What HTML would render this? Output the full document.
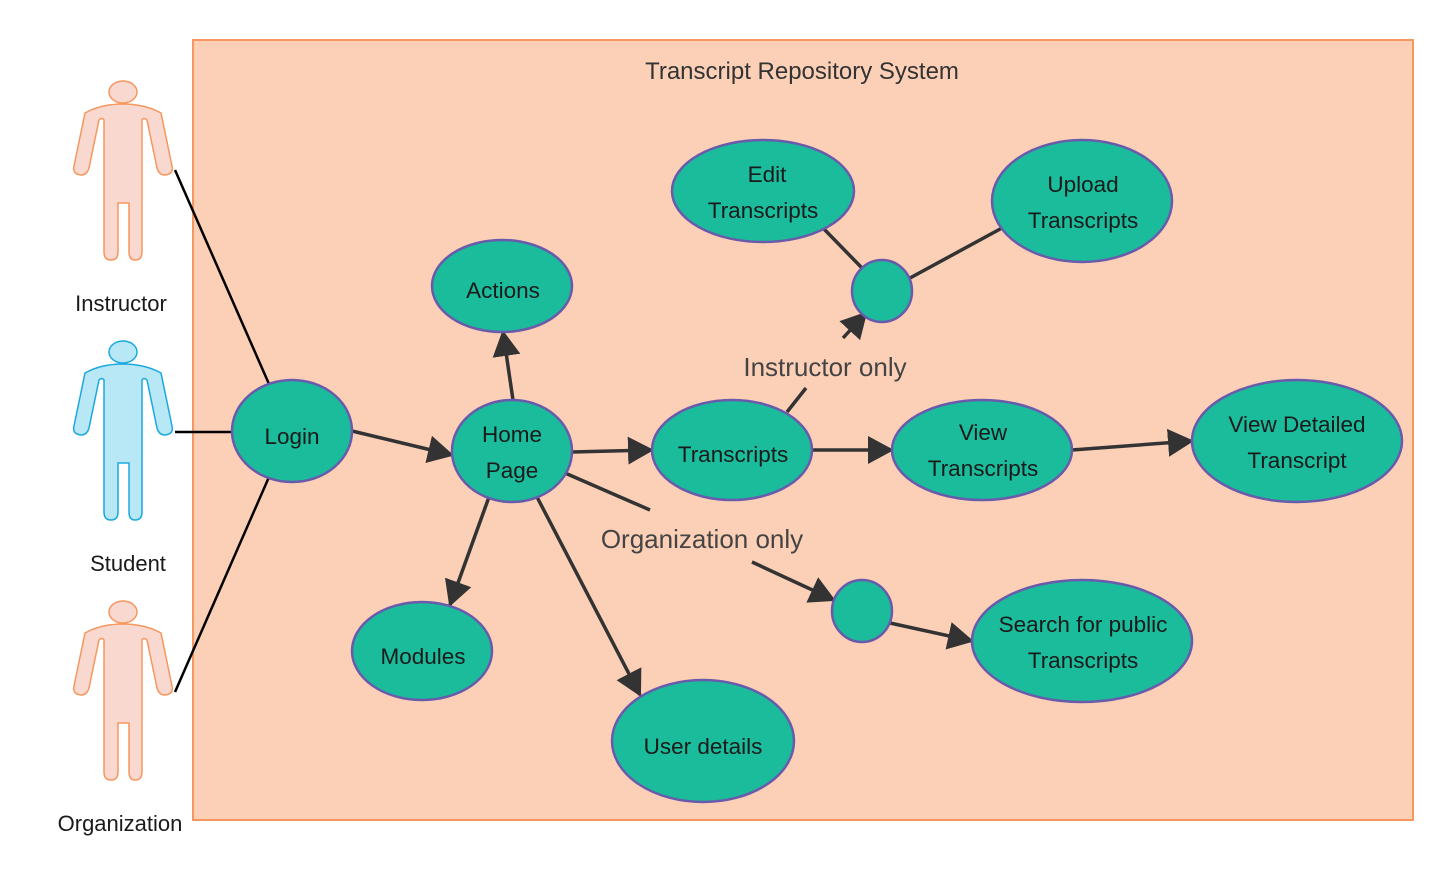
<!DOCTYPE html>
<html><head><meta charset="utf-8"><style>
html,body{margin:0;padding:0;background:#fff;}
svg{display:block;}
text{font-family:"Liberation Sans",sans-serif;}
</style></head><body>
<svg width="1453" height="878" viewBox="0 0 1453 878" xmlns="http://www.w3.org/2000/svg">
<defs>
<marker id="a" markerUnits="userSpaceOnUse" markerWidth="28" markerHeight="30" refX="24" refY="14" orient="auto">
<path d="M0,0 L26,14 L0,28 Z" fill="#333"/>
</marker>
<path id="actor" d="M 50 24 Q 72 24 88 33 L 99 86 Q 101 94 92 95 Q 86 95 84 88 L 74 40 Q 71 37 69 40 L 69 172 Q 69 180 62 180 Q 56 180 56 172 L 56 123 L 45 123 L 45 172 Q 45 180 38 180 Q 31 180 31 172 L 31 40 Q 29 37 26 40 L 16 88 Q 14 95 8 95 Q -1 94 1 86 L 12 33 Q 28 24 50 24 Z"/>
</defs>
<rect x="193" y="40" width="1220" height="780" fill="#fccfb7" stroke="#f5975f" stroke-width="2"/>
<text x="802" y="79" font-size="24" fill="#333" text-anchor="middle">Transcript Repository System</text>

<g fill="#f9d8d0" stroke="#f5975f" stroke-width="1.5">
<g transform="translate(73,80)"><ellipse cx="50" cy="12" rx="14" ry="11"/><use href="#actor"/></g>
<g transform="translate(73,600)"><ellipse cx="50" cy="12" rx="14" ry="11"/><use href="#actor"/></g>
</g>
<g fill="#b8e8f5" stroke="#1ba8e0" stroke-width="1.5">
<g transform="translate(73,340)"><ellipse cx="50" cy="12" rx="14" ry="11"/><use href="#actor"/></g>
</g>
<g font-size="22" fill="#1a1a1a" text-anchor="middle">
<text x="121" y="311">Instructor</text>
<text x="128" y="571">Student</text>
<text x="120" y="831">Organization</text>
</g>

<g stroke="#000" stroke-width="2.5" fill="none">
<line x1="175" y1="170" x2="269" y2="384"/>
<line x1="175" y1="432" x2="233" y2="432"/>
<line x1="175" y1="692" x2="269" y2="477"/>
</g>
<g stroke="#333" stroke-width="3.5" fill="none">
<line x1="352" y1="431" x2="452" y2="455" marker-end="url(#a)"/>
<line x1="513" y1="400" x2="503" y2="332" marker-end="url(#a)"/>
<line x1="489" y1="497" x2="450" y2="605" marker-end="url(#a)"/>
<line x1="537" y1="497" x2="640" y2="695" marker-end="url(#a)"/>
<line x1="572" y1="452" x2="652" y2="450" marker-end="url(#a)"/>
<line x1="565" y1="473" x2="650" y2="510"/>
<line x1="752" y1="562" x2="834" y2="600" marker-end="url(#a)"/>
<line x1="787" y1="412" x2="806" y2="388"/>
<line x1="843" y1="338" x2="866" y2="313" marker-end="url(#a)"/>
<line x1="812" y1="450" x2="892" y2="450" marker-end="url(#a)"/>
<line x1="1072" y1="450" x2="1192" y2="441" marker-end="url(#a)"/>
<line x1="890" y1="623" x2="972" y2="641" marker-end="url(#a)"/>
<line x1="823" y1="228" x2="862" y2="268"/>
<line x1="910" y1="278" x2="1002" y2="228"/>
</g>
<g font-size="26" fill="#444" text-anchor="middle">
<text x="825" y="376">Instructor only</text>
<text x="702" y="548">Organization only</text>
</g>

<g fill="#1abc9c" stroke="#6a5aab" stroke-width="2.5">
<ellipse cx="292" cy="431" rx="60" ry="51"/>
<ellipse cx="512" cy="451" rx="60" ry="51"/>
<ellipse cx="502" cy="286" rx="70" ry="46"/>
<ellipse cx="422" cy="651" rx="70" ry="49"/>
<ellipse cx="703" cy="741" rx="91" ry="61"/>
<ellipse cx="732" cy="450" rx="80" ry="50"/>
<ellipse cx="763" cy="191" rx="91" ry="51"/>
<ellipse cx="1082" cy="201" rx="90" ry="61"/>
<ellipse cx="882" cy="291" rx="30" ry="31"/>
<ellipse cx="982" cy="450" rx="90" ry="50"/>
<ellipse cx="1297" cy="441" rx="105" ry="61"/>
<ellipse cx="862" cy="611" rx="30" ry="31"/>
<ellipse cx="1082" cy="641" rx="110" ry="61"/>
</g>
<g font-size="22.5" fill="#1a1a1a" text-anchor="middle">
<text x="292" y="444">Login</text>
<text x="512" y="442">Home</text><text x="512" y="478">Page</text>
<text x="503" y="298">Actions</text>
<text x="423" y="664">Modules</text>
<text x="703" y="754">User details</text>
<text x="733" y="462">Transcripts</text>
<text x="767" y="182">Edit</text><text x="763" y="218">Transcripts</text>
<text x="1083" y="192">Upload</text><text x="1083" y="228">Transcripts</text>
<text x="983" y="440">View</text><text x="983" y="476">Transcripts</text>
<text x="1297" y="432">View Detailed</text><text x="1297" y="468">Transcript</text>
<text x="1083" y="632">Search for public</text><text x="1083" y="668">Transcripts</text>
</g>
</svg>
</body></html>
